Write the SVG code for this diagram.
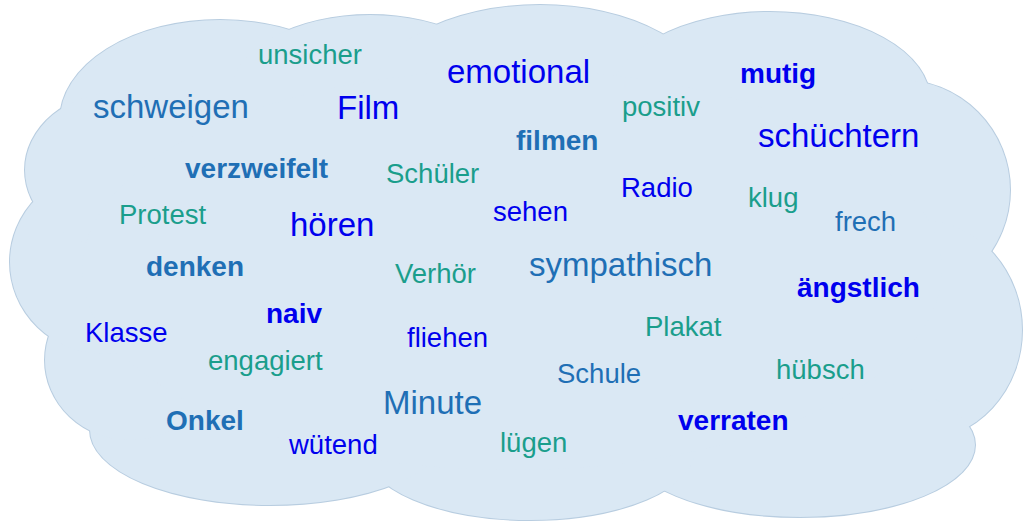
<svg xmlns="http://www.w3.org/2000/svg" width="1024" height="522" viewBox="0 0 1024 522">
<style>
.c{fill:#dae8f4}
.o{fill:#dae8f4;stroke:#b8cde0;stroke-width:2}
text{font-family:"Liberation Sans",Arial,sans-serif;font-size:27.5px}
.L{font-size:33px}
.b{font-weight:bold;font-size:28px}
.B{fill:#0000ee}.T{fill:#1a9e8c}.M{fill:#1f6fb5}
</style>
<defs><g id="cl">
<ellipse cx="220" cy="120" rx="160" ry="100"/><ellipse cx="370" cy="95" rx="140" ry="80"/>
<ellipse cx="540" cy="100" rx="170" ry="95"/><ellipse cx="770" cy="100" rx="160" ry="88"/>
<ellipse cx="900" cy="190" rx="110" ry="110"/><ellipse cx="920" cy="330" rx="102" ry="110"/>
<ellipse cx="800" cy="445" rx="175" ry="72"/><ellipse cx="530" cy="450" rx="165" ry="70"/>
<ellipse cx="270" cy="430" rx="180" ry="75"/><ellipse cx="130" cy="360" rx="85" ry="80"/>
<ellipse cx="105" cy="262" rx="95" ry="92"/><ellipse cx="120" cy="170" rx="95" ry="78"/>
<ellipse cx="512" cy="270" rx="430" ry="200"/></g></defs>
<g id="cloud"><use href="#cl" class="o"/><use href="#cl" class="c"/></g>
<g id="words">
<text x="258" y="64" class="T">unsicher</text>
<text x="447" y="83" class="L B">emotional</text>
<text x="740" y="83" class="b B">mutig</text>
<text x="93" y="118" class="L M">schweigen</text>
<text x="337" y="119" class="L B">Film</text>
<text x="622" y="116" class="T">positiv</text>
<text x="758" y="147" class="L B">schüchtern</text>
<text x="516" y="150" class="b M">filmen</text>
<text x="185" y="178" class="b M">verzweifelt</text>
<text x="386" y="183" class="T">Schüler</text>
<text x="621" y="197" class="B">Radio</text>
<text x="748" y="207" class="T">klug</text>
<text x="119" y="224" class="T">Protest</text>
<text x="493" y="221" class="B">sehen</text>
<text x="290" y="236" class="L B">hören</text>
<text x="835" y="231" class="M">frech</text>
<text x="146" y="276" class="b M">denken</text>
<text x="395" y="283" class="T">Verhör</text>
<text x="529" y="276" class="L M">sympathisch</text>
<text x="797" y="297" class="b B">ängstlich</text>
<text x="266" y="323" class="b B">naiv</text>
<text x="645" y="336" class="T">Plakat</text>
<text x="85" y="342" class="B">Klasse</text>
<text x="407" y="347" class="B">fliehen</text>
<text x="208" y="370" class="T">engagiert</text>
<text x="557" y="383" class="M">Schule</text>
<text x="776" y="379" class="T">hübsch</text>
<text x="383" y="414" class="L M">Minute</text>
<text x="166" y="430" class="b M">Onkel</text>
<text x="678" y="430" class="b B">verraten</text>
<text x="289" y="454" class="B">wütend</text>
<text x="500" y="452" class="T">lügen</text>
</g>
</svg>
